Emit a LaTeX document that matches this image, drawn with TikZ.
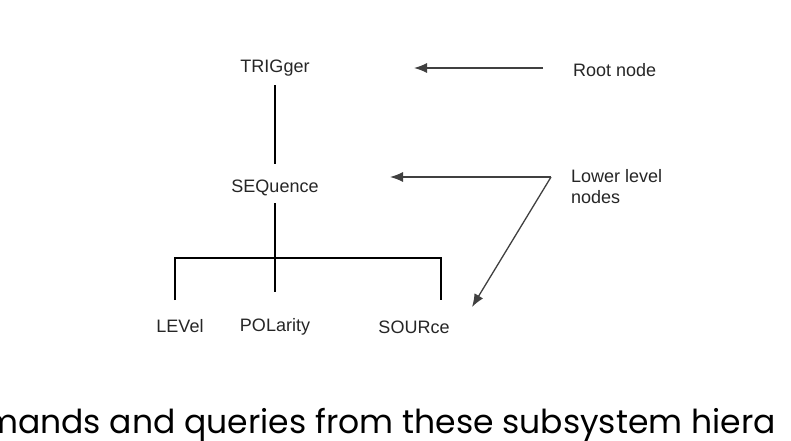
\documentclass[tikz,border=0pt]{standalone}
\usepackage{fontspec}
\setmainfont{Liberation Sans}
\newfontfamily\captionfont{Poppins}
\usetikzlibrary{positioning,arrows.meta}
\begin{document}
\begin{tikzpicture}[x=1pt,y=-1pt,
    lbl/.style={font=\fontsize{18}{21}\selectfont, text=black!85, inner sep=1pt},
    tree/.style={line width=1.4pt},
    pointer/.style={-{Latex[length=13pt,width=10pt]}, line width=1.3pt, black!75}]
        \clip (0,0) rectangle (791,440);
        \fill[white] (0,0) rectangle (791,440);

        % Baum
        \node[lbl] (trig) at (275,68) {TRIGger};
        \node[lbl] (seq) at (275,188) {SEQuence};
        \node[lbl] (lev) at (180,326) {LEVel};
        \node[lbl] (pol) at (275,327) {POLarity};
        \node[lbl] (src) at (414,327) {SOURce};
        \coordinate (bl) at (175,258);
        \coordinate (bm) at (275,258);
        \coordinate (br) at (441,258);

        \draw[tree] (275,85) -- (275,164);
        \draw[tree] (275,203) -- (bm);
        \draw[tree] (175,300) -- (bl) -- (br) -- (441,300);
        \draw[tree] (bm) -- (275,292);

        % Beschriftungen
        \node[lbl, anchor=west] (root) at (572,70) {Root node};
        \node[lbl, anchor=west, align=left] (lower) at (570,187) {Lower level\\nodes};
        \coordinate (rs) at (543,68);
        \coordinate (ls) at (551,177);
        \draw[pointer] (rs) -- (414,68);
        \draw[pointer] (ls) -- (390,177);
        \draw[pointer] (ls) -- (472,307);

        % Fliesstext
        \node[font=\captionfont\fontsize{33}{38}\selectfont, anchor=base west, inner sep=0pt] (txt) at (-16,433) {mands and queries from these subsystem hiera};
\end{tikzpicture}
\end{document}
